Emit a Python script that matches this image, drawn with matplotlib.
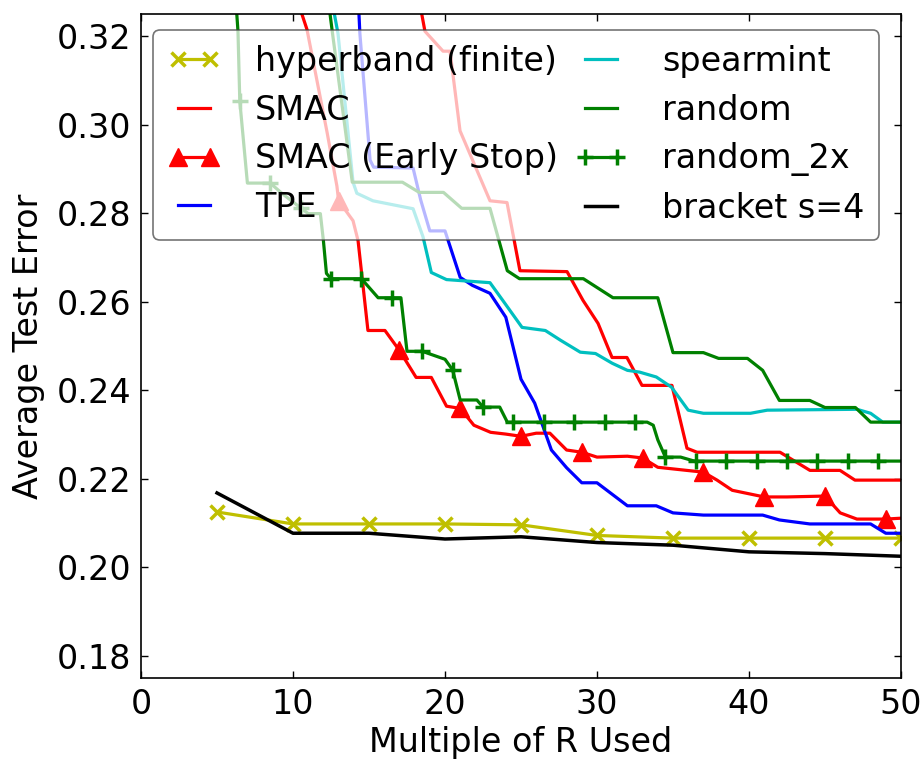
import matplotlib
matplotlib.use("Agg")
import matplotlib.pyplot as plt

# hyperband (finite) and bracket s=4, one point every 5 R
hb_x = [5, 10, 15, 20, 25, 30, 35, 40, 45, 50]
hb_y = [0.2125, 0.2098, 0.2098, 0.2098, 0.2096, 0.2072, 0.2066, 0.2066, 0.2066, 0.2066]

bracket_x = [5, 10, 15, 20, 25, 30, 35, 40, 45, 50]
bracket_y = [0.2168, 0.2077, 0.2077, 0.2064, 0.2069, 0.2056, 0.2050, 0.2035, 0.2031, 0.2025]

smac_x = [18.2, 18.68, 19.87, 20.33, 20.99, 22.96, 24.08, 24.93, 28.03, 29.08, 30.07,
          30.99, 31.97, 32.96, 34.93, 35.92, 36.58, 42.04, 44.01, 45.99, 46.97, 50.0]
smac_y = [0.3300, 0.3211, 0.3166, 0.3166, 0.2986, 0.2828, 0.2824, 0.2670, 0.2668, 0.2603, 0.2551,
          0.2474, 0.2474, 0.2411, 0.2411, 0.2269, 0.2260, 0.2260, 0.2219, 0.2219, 0.2197, 0.2197]

smac_es_x = [10.1, 10.92, 12.24, 12.89, 13.0, 13.95, 14.28, 14.93, 16.05, 17.0, 18.1, 19.1,
             20.1, 21.0, 21.9, 23.0, 24.0, 25.0, 26.0, 26.9, 28.0, 29.0, 30.0, 32.0, 33.0,
             34.0, 35.9, 37.0, 37.9, 38.9, 41.0, 42.5, 45.0, 46.0, 47.1, 49.0, 50.0]
smac_es_y = [0.3300, 0.3215, 0.2983, 0.2861, 0.2828, 0.2783, 0.2738, 0.2535, 0.2535, 0.2490, 0.2429, 0.2429,
             0.2364, 0.2359, 0.2321, 0.2305, 0.2301, 0.2296, 0.2303, 0.2303, 0.2265, 0.2260, 0.2249, 0.2251, 0.2247,
             0.2226, 0.2219, 0.2215, 0.2197, 0.2174, 0.2159, 0.2159, 0.2161, 0.2123, 0.2109, 0.2109, 0.2111]
smac_es_marks = [13, 17, 21, 25, 29, 33, 37, 41, 45, 49]

tpe_x = [14.2, 14.4, 15.07, 15.3, 17.9, 18.4, 19.0, 20.0, 21.0, 21.8, 22.96, 24.0, 25.0,
         25.9, 27.0, 28.0, 29.0, 30.0, 32.0, 33.9, 35.0, 37.0, 40.9, 42.0, 44.0, 48.0, 49.0, 50.0]
tpe_y = [0.3350, 0.3206, 0.2920, 0.2904, 0.2902, 0.2830, 0.2760, 0.2760, 0.2655, 0.2637, 0.2619, 0.2565, 0.2425,
         0.2371, 0.2265, 0.2225, 0.2191, 0.2191, 0.2139, 0.2139, 0.2123, 0.2118, 0.2118, 0.2107, 0.2098, 0.2098, 0.2077, 0.2077]

spearmint_x = [12.45, 12.96, 13.95, 14.2, 15.26, 17.9, 18.55, 19.1, 20.1, 22.96, 23.8, 25.07,
               26.6, 27.6, 28.9, 29.9, 31.0, 32.0, 32.8, 33.9, 34.9, 36.0, 37.0, 40.1, 41.2,
               47.1, 48.0, 48.8, 50.0]
spearmint_y = [0.3300, 0.3206, 0.2870, 0.2845, 0.2828, 0.2810, 0.2747, 0.2666, 0.2650, 0.2643, 0.2603, 0.2542,
               0.2535, 0.2513, 0.2486, 0.2483, 0.2461, 0.2445, 0.2441, 0.2430, 0.2407, 0.2355, 0.2348, 0.2348, 0.2355,
               0.2357, 0.2348, 0.2328, 0.2328]

random_x = [12.25, 12.6, 13.9, 17.2, 18.3, 19.9, 21.1, 22.96, 23.55, 24.1, 24.9, 29.1, 31.05,
            34.0, 35.0, 37.0, 38.0, 39.9, 40.9, 42.0, 44.0, 45.0, 47.0, 48.0, 50.0]
random_y = [0.3300, 0.3206, 0.2870, 0.2870, 0.2847, 0.2847, 0.2811, 0.2811, 0.2738, 0.2670, 0.2652, 0.2652, 0.2609,
            0.2609, 0.2485, 0.2485, 0.2472, 0.2472, 0.2445, 0.2377, 0.2377, 0.2361, 0.2361, 0.2328, 0.2328]

random2x_x = [6.2, 6.38, 6.5, 7.0, 8.5, 9.3, 10.5, 11.0, 11.8, 12.0, 12.2, 12.5, 14.5, 15.6,
              16.5, 17.1, 17.5, 18.5, 20.0, 20.5, 21.0, 22.1, 22.5, 23.6, 24.1, 24.5, 26.5,
              28.5, 30.5, 32.5, 33.3, 33.7, 34.0, 34.5, 35.5, 36.3, 36.5, 38.5, 40.5, 42.5,
              44.5, 46.5, 48.5, 50.0]
random2x_y = [0.3300, 0.3211, 0.3053, 0.2868, 0.2868, 0.2844, 0.2812, 0.2799, 0.2799, 0.2738, 0.2664, 0.2652, 0.2652, 0.2609,
              0.2609, 0.2609, 0.2488, 0.2488, 0.2470, 0.2446, 0.2378, 0.2378, 0.2362, 0.2362, 0.2328, 0.2328, 0.2328,
              0.2328, 0.2328, 0.2328, 0.2328, 0.2321, 0.2288, 0.2249, 0.2249, 0.2241, 0.2240, 0.2240, 0.2240, 0.2240,
              0.2240, 0.2240, 0.2240, 0.2240]
random2x_marks = [6.5, 8.5, 10.5, 12.5, 14.5, 16.5, 18.5, 20.5, 22.5, 24.5, 26.5, 28.5, 30.5,
                  32.5, 34.5, 36.5, 38.5, 40.5, 42.5, 44.5, 46.5, 48.5]

x_ticks = [0, 10, 20, 30, 40, 50]
y_ticks = [0.18, 0.20, 0.22, 0.24, 0.26, 0.28, 0.30, 0.32]

plt.rcParams["font.family"] = ["DejaVu Sans"]
plt.rcParams["font.size"] = 24

fig = plt.figure(figsize=(9.24, 7.6), dpi=100)
ax = fig.add_subplot(111)
fig.subplots_adjust(left=0.1526, right=0.9751, bottom=0.1079, top=0.9816)

lw = 2.3
ax.plot(hb_x, hb_y, color="y", lw=lw, marker="x", ms=10, mew=2.5, label="hyperband (finite)")
ax.plot(smac_x, smac_y, color="r", lw=lw, label="SMAC")
ax.plot(smac_es_x, smac_es_y, color="r", lw=lw, marker="^", ms=13, mec="r",
        markevery=[smac_es_x.index(m) for m in smac_es_marks], label="SMAC (Early Stop)")
ax.plot(tpe_x, tpe_y, color="b", lw=lw, label="TPE")
ax.plot(spearmint_x, spearmint_y, color="c", lw=lw, label="spearmint")
ax.plot(random_x, random_y, color="g", lw=lw, label="random")
ax.plot(random2x_x, random2x_y, color="g", lw=lw, marker="+", ms=11, mew=2.5,
        markevery=[random2x_x.index(m) for m in random2x_marks], label="random_2x")
ax.plot(bracket_x, bracket_y, color="k", lw=2.5, label="bracket s=4")

ax.set_xlim(0, 50)
ax.set_ylim(0.175, 0.325)
ax.set_xticks(x_ticks)
ax.set_yticks(y_ticks)
ax.set_yticklabels([f"{v:.2f}" for v in y_ticks])
ax.tick_params(direction="in", top=True, right=True, length=5, width=1, labelsize=24, pad=7)
for s in ax.spines.values():
    s.set_linewidth(1.2)

ax.set_xlabel("Multiple of R Used", fontsize=24, labelpad=4)
ax.set_ylabel("Average Test Error", fontsize=24, labelpad=8)

leg = ax.legend(loc="upper left", bbox_to_anchor=(0.016, 0.976), borderaxespad=0, ncol=2,
                fontsize=24, numpoints=2, handlelength=1.56, handletextpad=1.05,
                columnspacing=0.5, labelspacing=0.47, borderpad=0.45, framealpha=0.72,
                fancybox=True, edgecolor="0.25")
leg.get_frame().set_linewidth(1.2)
for h in leg.legend_handles:
    h.set_markevery(None)

fig.savefig("out.png", dpi=100)
